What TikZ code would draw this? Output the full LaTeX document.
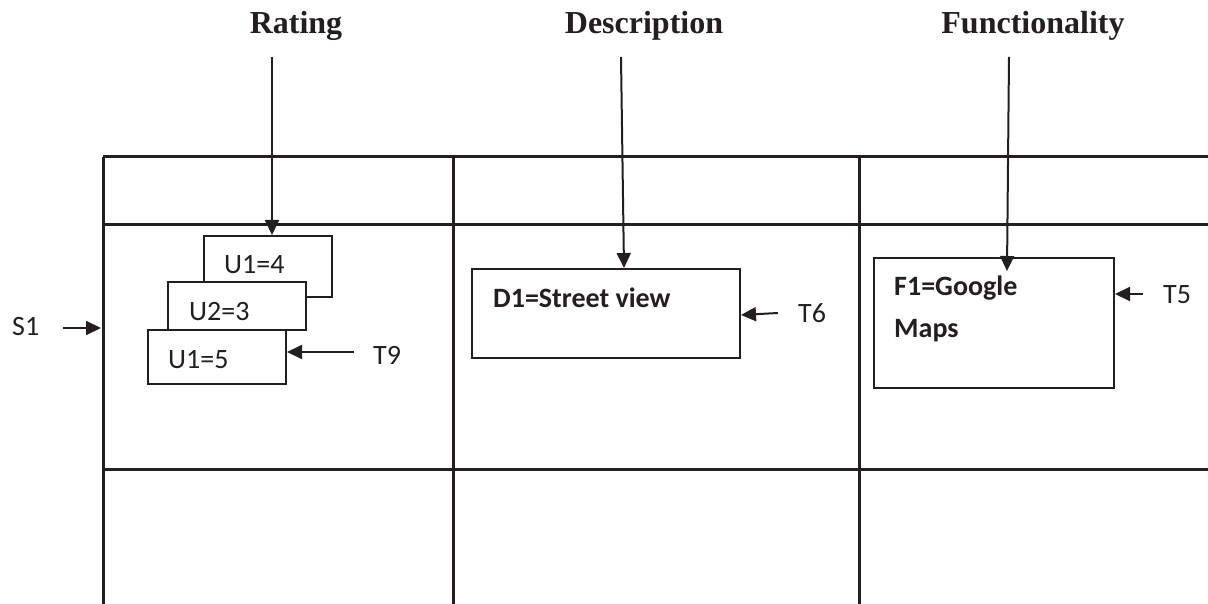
\documentclass[tikz,border=0pt]{standalone}
\usepackage{fontspec}
\setmainfont{Carlito}
\newfontfamily\titlefont{Liberation Serif}
\usetikzlibrary{arrows.meta}
\definecolor{ink}{HTML}{231F20}
\tikzset{
  gridline/.style={draw=ink, line width=3pt},
  box/.style={draw=ink, line width=2pt, fill=white, inner sep=0pt, anchor=north west},
  conn/.style={draw=ink, line width=2pt, -{Triangle[length=15pt,width=14pt]}},
  txt/.style={font=\fontsize{28}{32}\selectfont, inner sep=0pt, anchor=base west, text=ink},
  btxt/.style={txt, font=\fontsize{28}{32}\selectfont\bfseries},
  title/.style={font=\titlefont\bfseries\fontsize{32}{36}\selectfont, inner sep=0pt, anchor=base, text=ink},
}
\begin{document}
\begin{tikzpicture}[x=1pt,y=-1pt]
\useasboundingbox (0,0) rectangle (1208,604);
% table
\draw[gridline] (103,157) -- (1208,157);
\draw[gridline] (103,225) -- (1208,225);
\draw[gridline] (103,469) -- (1208,469);
\draw[gridline] (103,157) -- (103,604);
\draw[gridline] (453,157) -- (453,604);
\draw[gridline] (859,157) -- (859,604);
% titles
\node[title] (rating) at (296,34) {Rating};
\node[title] (desc) at (644,34) {Description};
\node[title] (func) at (1033,34) {Functionality};
\coordinate (rs) at (272,57);
\coordinate (ds) at (621,57);
\coordinate (fs) at (1009,57);
% rating boxes
\node[box, minimum width=128pt, minimum height=61pt] (u14) at (203,235) {};
\node[txt] (u14t) at (224,274) {U1=4};
\node[box, minimum width=138pt, minimum height=48pt] (u23) at (167,281) {};
\node[txt] (u23t) at (189,320) {U2=3};
\node[box, minimum width=138pt, minimum height=54pt] (u15) at (147,329) {};
\node[txt] (u15t) at (168,368) {U1=5};
% description box
\node[box, minimum width=268pt, minimum height=89pt] (d1) at (471,268) {};
\node[btxt] (d1t) at (493,307) {D1=Street view};
% functionality box
\node[box, minimum width=240pt, minimum height=130pt] (f1) at (873,257) {};
\node[btxt] (f1t) at (894,295) {F1=Google};
\node[btxt] (f1m) at (894,337) {Maps};
% side labels
\node[txt] (s1) at (12,335) {S1};
\node[txt] (t9) at (373,364) {T9};
\node[txt] (t6) at (798,322) {T6};
\node[txt] (t5) at (1163,303) {T5};
\coordinate (s1a) at (63,328);
\coordinate (t9a) at (354,352);
\coordinate (t6a) at (778,313);
\coordinate (t5a) at (1143,294);
% connectors
\draw[conn] (rs) -- (rs |- u14.north);
\draw[conn] (ds) -- ([xshift=153pt]d1.north west);
\draw[conn] (fs) -- ([xshift=134pt,yshift=-14pt]f1.north west);
\draw[conn] (s1a) -- (101,328);
\draw[conn] (t9a) -- (t9a -| u15.east);
\draw[conn] (t6a) -- ([yshift=-47pt]d1.north east);
\draw[conn] (t5a) -- (t5a -| f1.east);
\end{tikzpicture}
\end{document}
